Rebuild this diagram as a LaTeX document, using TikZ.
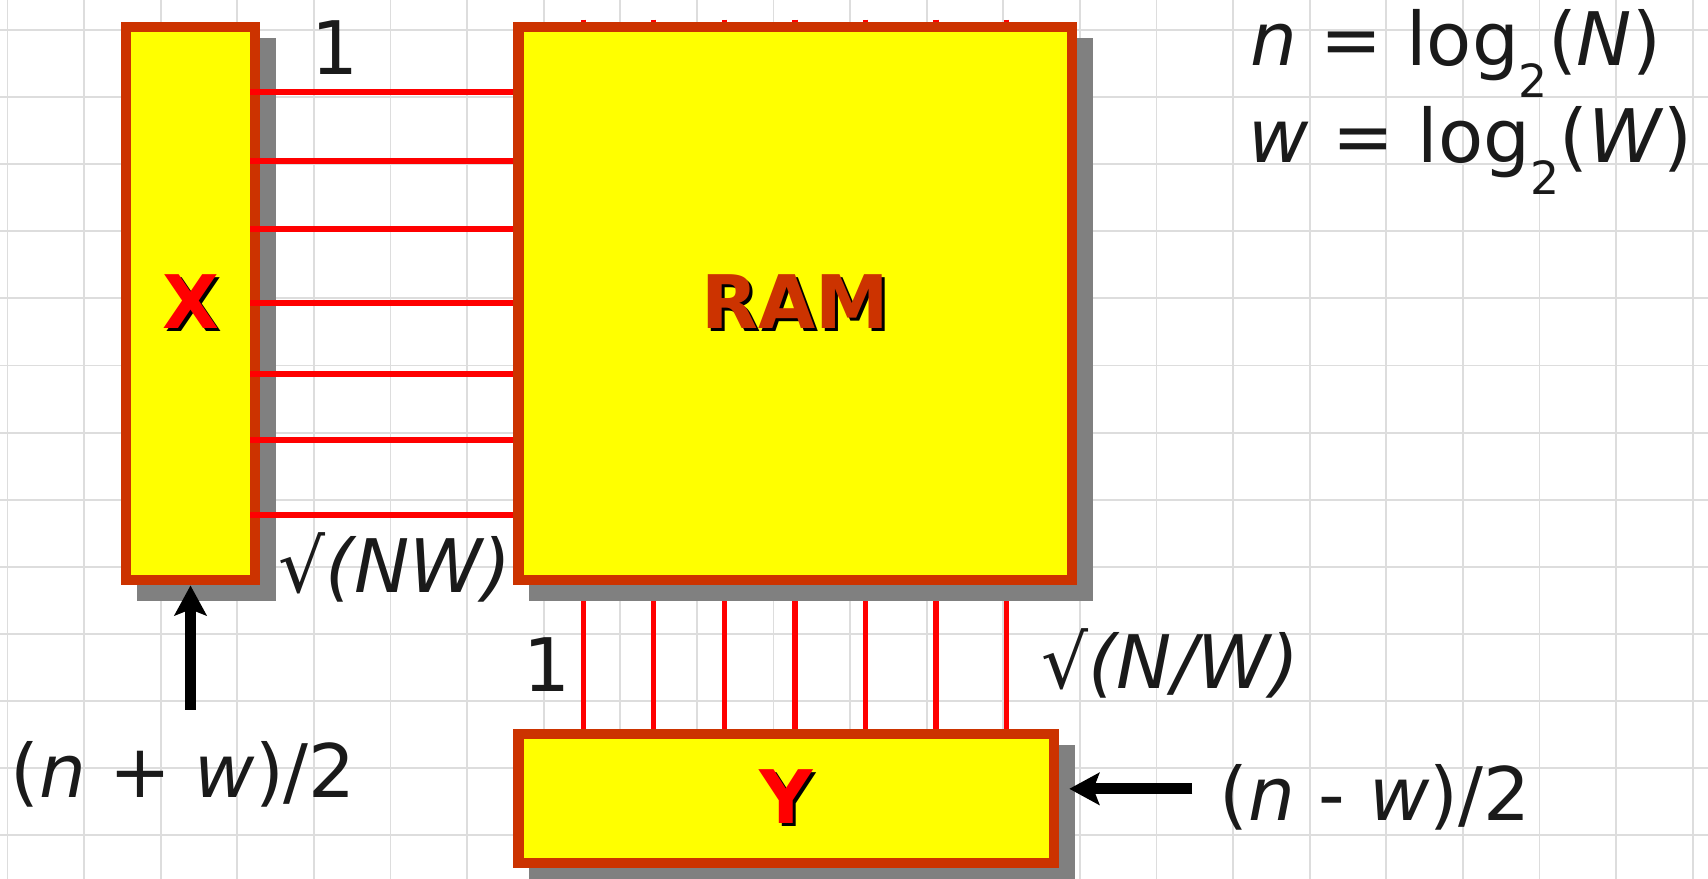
\documentclass[tikz,border=0pt]{standalone}
\usepackage{fontspec}
\setmainfont{DejaVu Sans}[ItalicFont={DejaVu Sans Oblique},BoldFont={DejaVu Sans Bold}]
\usetikzlibrary{arrows.meta, positioning, backgrounds}
\definecolor{boxborder}{HTML}{CC3300}
\definecolor{boxfill}{HTML}{FFFF00}
\definecolor{shadowgray}{HTML}{808080}
\definecolor{wirered}{HTML}{FF0000}
\definecolor{inkgray}{HTML}{1A1A1A}
\definecolor{gridgray}{HTML}{DDDDDD}
\newcommand{\shadowed}[2]{\makebox[0pt][l]{\hspace{0.03cm}\raisebox{-0.03cm}{\color{black}#2}}{\color{#1}#2}}
\newcommand{\subtwo}{\raisebox{-0.31cm}{\fontsize{13}{13}\selectfont 2}}

\begin{document}
\begin{tikzpicture}[
    x=0.01cm, y=-0.01cm,
    block/.style={rectangle, draw=boxborder, fill=boxfill, line width=3pt, inner sep=0pt, font=\fontsize{21}{25}\selectfont\bfseries},
    wire/.style={draw=wirered, line width=1.5pt},
    grid line/.style={draw=gridgray, line width=0.55pt},
    note/.style={text=inkgray, font=\fontsize{21}{25}\selectfont, inner sep=0pt, anchor=base},
    arrow/.style={-{Stealth[length=0.3cm, width=0.32cm, inset=0.06cm]}, line width=3.1pt},
    shade box/.style={fill=shadowgray}
]
\useasboundingbox (0,0) rectangle (1708,879);

\node[block, minimum width=1.29cm, minimum height=5.53cm] (X) at (190.5,303.5) {\shadowed{wirered}{X}};
\node[block, minimum width=5.53cm, minimum height=5.53cm, right=2.53cm of X] (RAM) {\shadowed{boxborder}{RAM}};
\node[block, minimum width=5.35cm, minimum height=1.29cm, below=1.43cm of RAM.south west, anchor=north west] (Y) {\shadowed{wirered}{Y}};

\begin{pgfonlayer}{background}
\foreach \gx in {0,...,22}
    \draw[grid line] (7.5+76.6*\gx,0) -- (7.5+76.6*\gx,879);
\foreach \gy in {0,...,12}
    \draw[grid line] (0,30+67.1*\gy) -- (1708,30+67.1*\gy);
\foreach \i [evaluate=\i as \wx using 583.3+70.55*\i] in {0,...,6}
    \draw[wire, shorten <=-0.02cm] (RAM.north -| \wx,0) -- (Y.north -| \wx,0);
\fill[shade box] ([shift={(16,16)}]X.north west) rectangle ([shift={(16,16)}]X.south east);
\fill[shade box] ([shift={(16,16)}]RAM.north west) rectangle ([shift={(16,16)}]RAM.south east);
\fill[shade box] ([shift={(16,16)}]Y.north west) rectangle ([shift={(16,16)}]Y.south east);
\end{pgfonlayer}

\foreach \wy in {92,161,229,303,374,440,515}
    \draw[wire, shorten <=-0.1cm] (X.east |- 0,\wy) -- (RAM.west |- 0,\wy);

\node[note] (topone) at (335,75) {1};
\node[note] (xcount) at (395,593) {√\textit{(NW)}};
\node[note] (bottomone) at (547,691) {1};
\node[note] (ycount) at (1170,689) {√\textit{(N/W)}};

\coordinate[below=1.24cm of X.south] (xin);
\draw[arrow] (xin) -- (X.south);
\node[note] (xbits) at (183,797) {(\textit{n} + \textit{w})/2};

\coordinate (yin) at ([xshift=1.33cm, yshift=0.095cm]Y.east);
\draw[arrow, shorten >=0.1cm] (yin) -- (yin -| Y.east);
\node[note] (ybits) at (1375,820) {(\textit{n} - \textit{w})/2};

\node[note, anchor=base west] (ndef) at (1250,66) {\textit{n} = log\subtwo(\textit{N})};
\node[note, anchor=base west] (wdef) at (1248,163) {\textit{w} = log\subtwo(\textit{W})};
\end{tikzpicture}
\end{document}
